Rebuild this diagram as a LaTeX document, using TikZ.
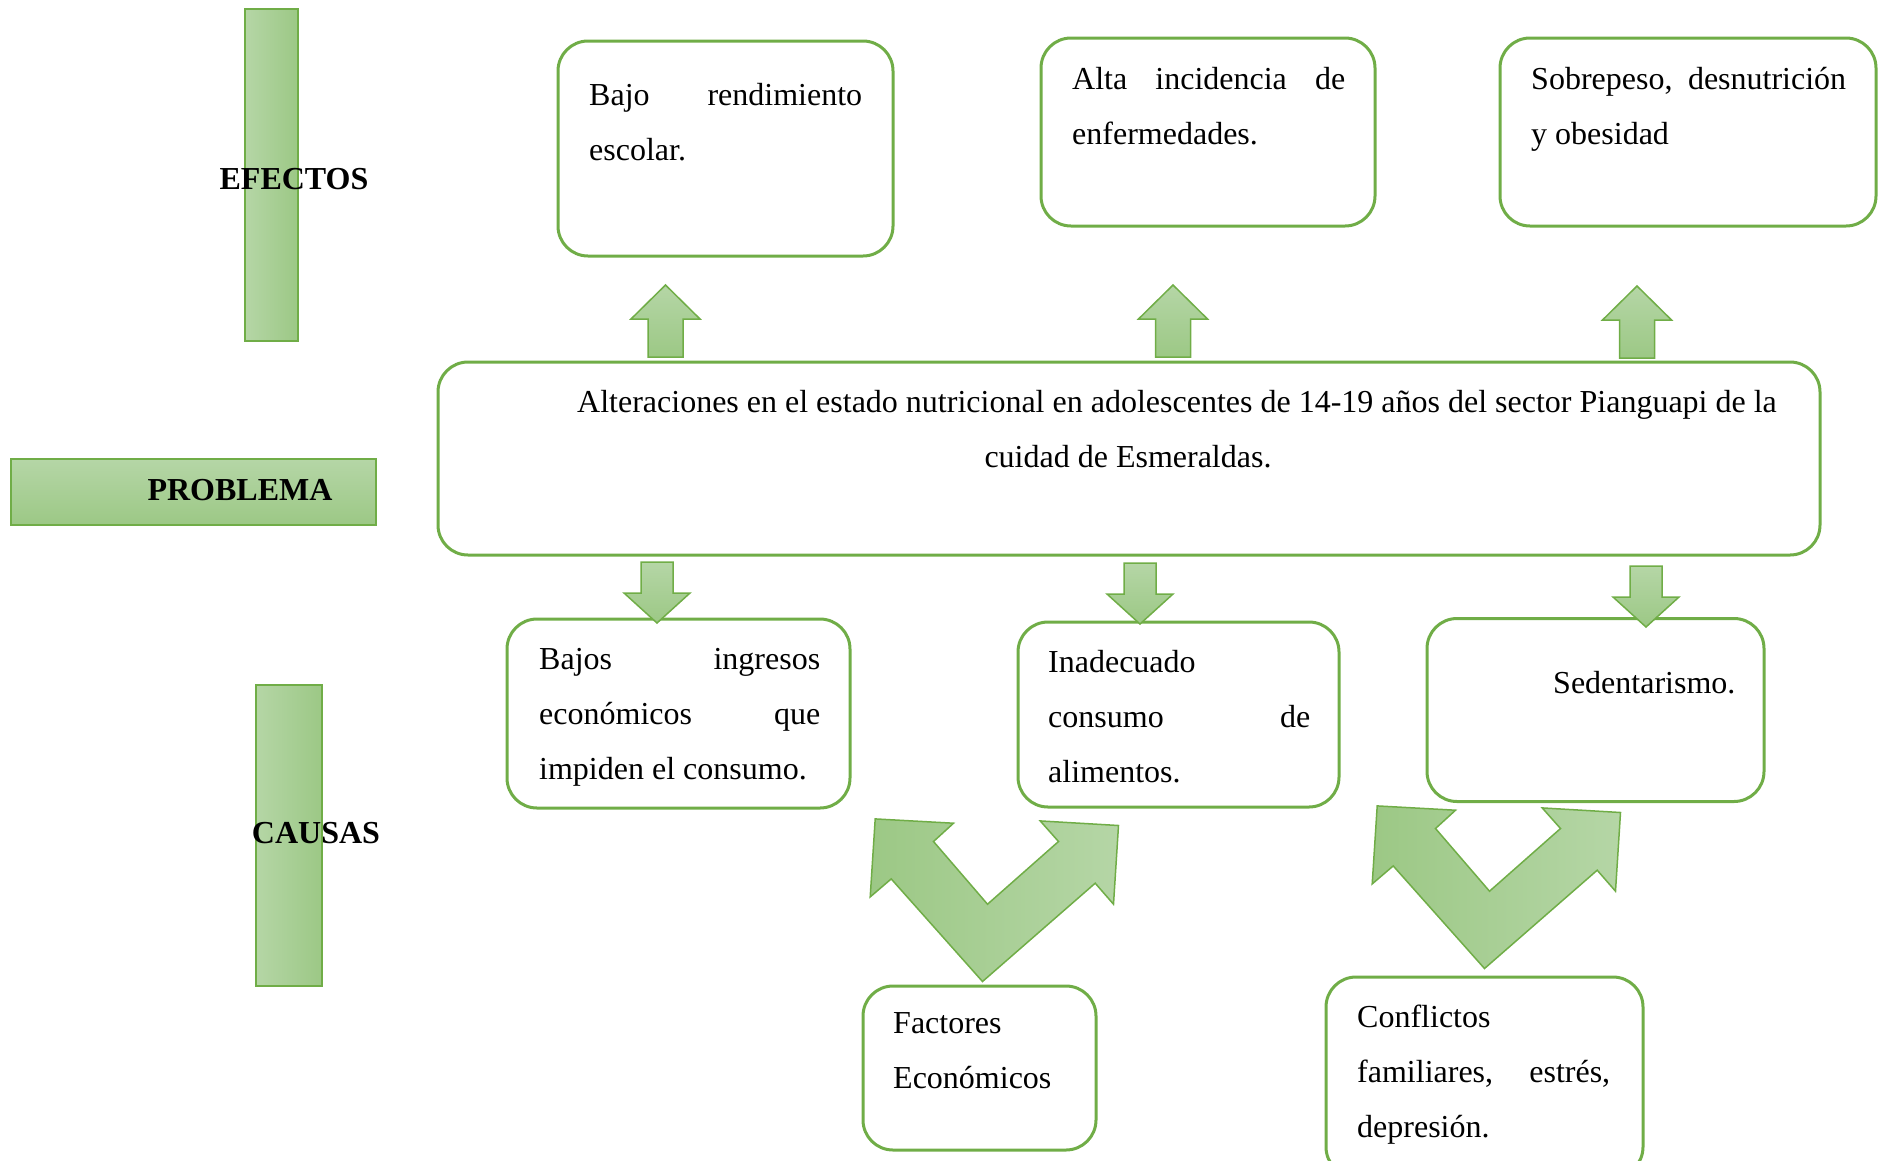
\documentclass[tikz,border=0pt]{standalone}
\usepackage{fontspec}
\setmainfont{Liberation Serif}
\usetikzlibrary{positioning, calc}
\hyphenpenalty=10000
\definecolor{verdeborde}{HTML}{70AD47}
\definecolor{verdeclaro}{HTML}{B5D6A6}
\definecolor{verdeoscuro}{HTML}{9CC885}
\tikzset{
	caja/.style={draw=verdeborde, line width=3pt, rounded corners=30pt}, % cajas redondeadas
	texto/.style={inner sep=0pt, align=flush left, anchor=north west, font=\fontsize{32}{55}\selectfont}, % texto dentro de las cajas
	barra/.style={draw=verdeborde, line width=1.5pt}, % barras de los titulos
	titulo/.style={inner sep=0pt, anchor=base, font=\fontsize{32}{40}\selectfont\bfseries}, % EFECTOS, PROBLEMA, CAUSAS
	flecha/.style={draw=verdeborde, line width=1.5pt, top color=verdeclaro, bottom color=verdeoscuro}, % flechas de bloque
	flechaarriba/.pic={\path[flecha] (-17.5,0) -- (-17.5,-38) -- (-34.5,-38) -- (0,-72) -- (34.5,-38) -- (17.5,-38) -- (17.5,0) -- cycle;},
	flechaabajo/.pic={\path[flecha] (-16,0) -- (-16,31) -- (-33,31) -- (0,61) -- (33,31) -- (16,31) -- (16,0) -- cycle;},
	flechav/.pic={\path[flecha, left color=verdeoscuro, right color=verdeclaro]
		(0,0) -- (-91.3,-102.6) -- (-112.3,-84.6) -- (-107.3,-162.6) -- (-29,-158.3) -- (-49,-140)
		-- (5,-77.3) -- (76,-140) -- (57.7,-160.6) -- (136,-156) -- (131,-77.3) -- (112.7,-98.3) -- cycle;},
}

\begin{document}
\begin{tikzpicture}[x=1pt, y=-1pt]
	\useasboundingbox (0,0) rectangle (1885,1160);
	
	% barras
	\node[barra, left color=verdeclaro, right color=verdeoscuro, minimum width=53pt, minimum height=332pt] (befectos) at (271.5,175) {};
	\node[barra, top color=verdeclaro, bottom color=verdeoscuro, minimum width=365pt, minimum height=66pt] (bproblema) at (193.5,492) {};
	\node[barra, left color=verdeclaro, right color=verdeoscuro, minimum width=66pt, minimum height=301pt] (bcausas) at (289,835.5) {};
	\node[titulo] (tefectos) at (294,189) {EFECTOS};
	\node[titulo] (tproblema) at (240,500) {PROBLEMA};
	\node[titulo] (tcausas) at (316,843) {CAUSAS};
	
	% efectos
	\node[caja, minimum width=335pt, minimum height=215pt] (e1) at (725.5,148.5) {};
	\node[caja, minimum width=334pt, minimum height=188pt] (e2) at (1208,132) {};
	\node[caja, minimum width=376pt, minimum height=188pt] (e3) at (1688,132) {};
	\node[texto, text width=273pt] (te1) at (589,83) {Bajo\hfill rendimiento\\escolar.};
	\node[texto, text width=273pt] (te2) at (1072,67) {Alta\hfill incidencia\hfill de\\enfermedades.};
	\node[texto, text width=315pt] (te3) at (1531,67) {Sobrepeso,\hfill desnutrición\\y obesidad};
	
	% problema
	\node[caja, minimum width=1382pt, minimum height=193pt] (prob) at (1129,458.5) {};
	\node[texto, align=center, anchor=north] (tprob) at (1128,390)
		{\hspace*{98pt}Alteraciones en el estado nutricional en adolescentes de 14-19 años del sector Pianguapi de la\\cuidad de Esmeraldas.};
	
	% causas
	\node[caja, minimum width=343pt, minimum height=189pt] (c1) at (678.5,713.5) {};
	\node[caja, minimum width=321pt, minimum height=185pt] (c2) at (1178.5,714.5) {};
	\node[caja, minimum width=337pt, minimum height=183pt] (c3) at (1595.5,710) {};
	\node[texto, text width=281pt] (tc1) at (539,648) {Bajos\hfill ingresos\\económicos\hfill que\\impiden el consumo.};
	\node[texto, text width=262pt] (tc2) at (1048,650) {Inadecuado\\consumo\hfill de\\alimentos.};
	\node[texto] (tc3) at (1553,671) {Sedentarismo.};
	
	\node[caja, minimum width=233pt, minimum height=164pt] (f1) at (979.5,1068) {};
	\node[caja, minimum width=317pt, minimum height=200pt] (f2) at (1484.5,1077) {};
	\node[texto] (tf1) at (893,1012) {Factores\\Económicos};
	\node[texto, text width=253pt] (tf2) at (1357,1005) {Conflictos\\familiares,\hfill estrés,\\depresión.};
	
	% flechas
	\pic at (665.5,357) {flechaarriba};
	\pic at (1173,357) {flechaarriba};
	\pic at (1637,358) {flechaarriba};
	\pic at (657,562) {flechaabajo};
	\pic at (1140,563) {flechaabajo};
	\pic at (1646,566) {flechaabajo};
	\pic at ([xshift=3pt, yshift=3pt]f1.north) {flechav};
	\pic at ([yshift=7pt]f2.north) {flechav};
\end{tikzpicture}
\end{document}
